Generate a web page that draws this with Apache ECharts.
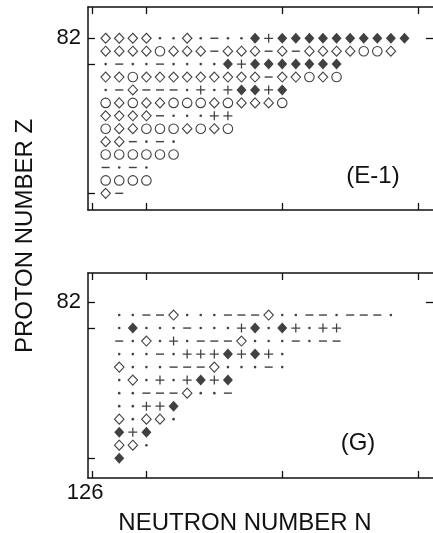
<!DOCTYPE html>
<html>
<head>
<meta charset="utf-8">
<script src="https://cdn.jsdelivr.net/npm/echarts@6/dist/echarts.min.js"></script>
<style>
html,body{margin:0;padding:0;background:#fff;}
#chart{width:433px;height:533px;}
</style>
</head>
<body>
<div id="chart"></div>
<script>
// Symbol codes: d = open diamond, D = filled diamond, o = open circle,
// + = plus, - = dash, . = dot
// Panel (E-1): rows from Z=82 down to Z=70, first column N=127
const topStartN = 127;
const topZ = [82, 81, 80, 79, 78, 77, 76, 75, 74, 73, 72, 71, 70];
const topRows = [
  "dddd..d.-..D+DDDDDDDDDD",
  "ddddoddd-ddd-d-ddddood",
  ".-..-....D+DDDDDDD",
  "ddoddddddddd-ddodo",
  ".-d---.+.+DD+D",
  "ododdooododddo",
  "dddd-...++",
  "oddooododo",
  "dd-.-.",
  "oooooo",
  "-.-.",
  "oooo",
  "d-"
];
// Panel (G): rows from Z=81 down to Z=70, first column N=128
const bottomStartN = 128;
const bottomZ = [81, 80, 79, 78, 77, 76, 75, 74, 73, 72, 71, 70];
const bottomRows = [
  "..--d...---d..--.---.",
  ".D...-...+D.D+.++",
  "-.d.+.---d...-.--",
  "...-.+++D+D+.",
  "d...---d...-.",
  ".d.+.+D+D",
  "..---d..-",
  "..++D",
  "d.dd.",
  "D+D",
  "dd.",
  "D"
];
const xTickValues = [126, 130, 140, 150];
const xLabelValues = [126];
const yTickLeft = [82, 80, 70];
const yTickRight = [82];
const yLabelValues = [82];
const panelLabels = ["(E-1)", "(G)"];
const xTitle = "NEUTRON NUMBER N";
const yTitle = "PROTON NUMBER Z";

const INK = '#111';
const FONT = '"Liberation Sans", Arial, sans-serif';

const symbolStyles = {
  'd': {symbol: 'diamond', symbolSize: [9.5, 10], itemStyle: {color: '#fff', borderColor: INK, borderWidth: 1.1}},
  'D': {symbol: 'diamond', symbolSize: [10, 11], itemStyle: {color: INK, borderWidth: 0}},
  'o': {symbol: 'circle', symbolSize: 9.5, itemStyle: {color: '#fff', borderColor: INK, borderWidth: 1.1}},
  '+': {symbol: 'path://M4.3,0h1.4v4.3h4.3v1.4h-4.3v4.3h-1.4v-4.3h-4.3v-1.4h4.3z', symbolSize: 9, itemStyle: {color: INK}},
  '-': {symbol: 'rect', symbolSize: [8, 1.4], itemStyle: {color: INK}},
  '.': {symbol: 'circle', symbolSize: 2.6, itemStyle: {color: INK}}
};

function buildPoints(rows, zs, startN) {
  const pts = {};
  Object.keys(symbolStyles).forEach(k => pts[k] = []);
  rows.forEach((row, i) => {
    for (let j = 0; j < row.length; j++) {
      const c = row[j];
      if (pts[c]) pts[c].push([startN + j, zs[i]]);
    }
  });
  return pts;
}

const N_MIN = 125.7, N_MAX = 151.1;
const grids = [
  {left: 88, top: 7, width: 346.7, height: 203, yMin: 68.71, yMax: 84.42},
  {left: 88, top: 273, width: 346.7, height: 205, yMin: 68.48, yMax: 84.23}
];

const axisLine = {show: true, onZero: false, lineStyle: {color: INK, width: 1.5}};
function tick(values) {
  return {show: true, inside: true, length: 7, customValues: values, lineStyle: {color: INK, width: 1.3}};
}

const xAxes = [], yAxes = [], series = [];
grids.forEach((g, gi) => {
  xAxes.push({
    type: 'value', gridIndex: gi, position: 'bottom', min: N_MIN, max: N_MAX,
    axisLine: axisLine, axisTick: tick(xTickValues), splitLine: {show: false},
    axisLabel: gi === 1 ? {show: true, customValues: xLabelValues, color: INK, fontSize: 22, fontFamily: FONT, margin: 4, padding: [0, 14, 0, 0]} : {show: false}
  });
  xAxes.push({
    type: 'value', gridIndex: gi, position: 'top', min: N_MIN, max: N_MAX,
    axisLine: axisLine, axisTick: tick(xTickValues), splitLine: {show: false}, axisLabel: {show: false}
  });
  yAxes.push({
    type: 'value', gridIndex: gi, position: 'left', min: g.yMin, max: g.yMax,
    axisLine: axisLine, axisTick: tick(yTickLeft), splitLine: {show: false},
    axisLabel: {show: true, customValues: yLabelValues, color: INK, fontSize: 22, fontFamily: FONT, margin: 7, padding: gi === 0 ? [0, 0, 6, 0] : [0, 0, 0, 0]}
  });
  yAxes.push({
    type: 'value', gridIndex: gi, position: 'right', min: g.yMin, max: g.yMax,
    axisLine: {show: false}, axisTick: tick(yTickRight), splitLine: {show: false}, axisLabel: {show: false}
  });
  const pts = gi === 0 ? buildPoints(topRows, topZ, topStartN) : buildPoints(bottomRows, bottomZ, bottomStartN);
  Object.keys(symbolStyles).forEach(k => {
    const s = symbolStyles[k];
    series.push({
      type: 'scatter', xAxisIndex: gi * 2, yAxisIndex: gi * 2, data: pts[k],
      symbol: s.symbol, symbolSize: s.symbolSize, itemStyle: s.itemStyle,
      silent: true, animation: false, emphasis: {disabled: true}
    });
  });
});

const chart = echarts.init(document.getElementById('chart'), null, {renderer: 'canvas'});
chart.setOption({
  backgroundColor: '#fff',
  animation: false,
  grid: grids.map(g => ({left: g.left, top: g.top, width: g.width, height: g.height})),
  xAxis: xAxes,
  yAxis: yAxes,
  series: series,
  graphic: [
    {type: 'text', x: 245, y: 523, style: {text: xTitle, font: '24px ' + FONT, fill: INK, align: 'center', verticalAlign: 'middle'}},
    {type: 'text', x: 25, y: 236, rotation: Math.PI / 2, style: {text: yTitle, font: '24px ' + FONT, fill: INK, align: 'center', verticalAlign: 'middle'}},
    {type: 'text', x: 373, y: 176, style: {text: panelLabels[0], font: '24px ' + FONT, fill: INK, align: 'center', verticalAlign: 'middle'}},
    {type: 'text', x: 358, y: 443, style: {text: panelLabels[1], font: '24px ' + FONT, fill: INK, align: 'center', verticalAlign: 'middle'}}
  ]
});
</script>
</body>
</html>
